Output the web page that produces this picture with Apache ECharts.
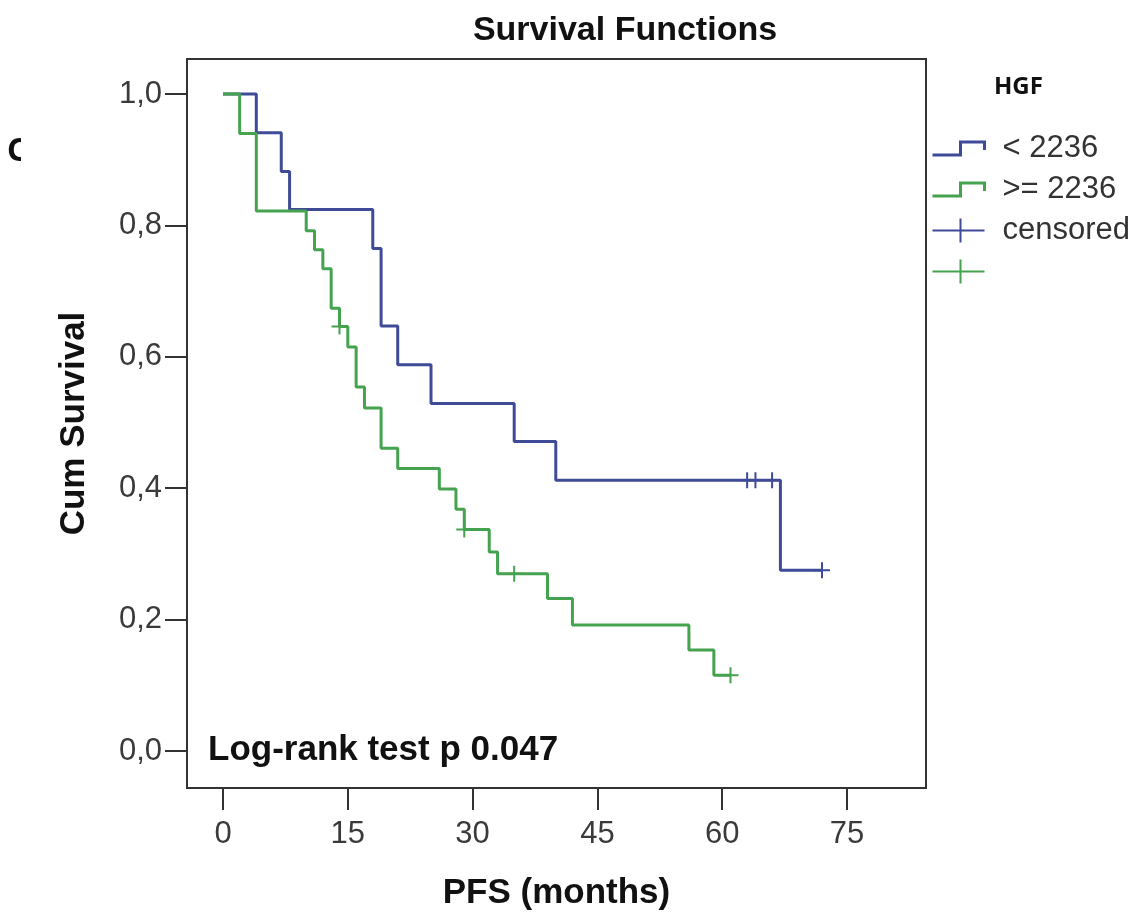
<!DOCTYPE html>
<html>
<head>
<meta charset="utf-8">
<script src="https://cdn.jsdelivr.net/npm/echarts@6/dist/echarts.min.js"></script>
<style>
html,body{margin:0;padding:0;background:#fff;}
#chart{width:1141px;height:916px;}
</style>
</head>
<body>
<div id="chart"></div>
<script>
// ---- data ----
const xTickValues = [0, 15, 30, 45, 60, 75];
const xTickLabels = ['0', '15', '30', '45', '60', '75'];
const yTickValues = [0, 0.2, 0.4, 0.6, 0.8, 1.0];
const yTickLabels = ['0,0', '0,2', '0,4', '0,6', '0,8', '1,0'];

const groupNames = ['< 2236', '>= 2236', 'censored', ' '];

const lowTimes = [0, 4, 7, 8, 18, 19, 21, 25, 35, 40, 67, 72];
const lowSurv  = [1.0, 0.941, 0.882, 0.824, 0.765, 0.647, 0.588, 0.529, 0.471, 0.412, 0.275, 0.275];
const lowCensorTimes = [63, 64, 66, 72];
const lowCensorSurv  = [0.412, 0.412, 0.412, 0.275];

const highTimes = [0, 2, 4, 10, 11, 12, 13, 14, 15, 16, 17, 19, 21, 26, 28, 29, 32, 33, 39, 42, 56, 59, 61];
const highSurv  = [1.0, 0.94, 0.822, 0.792, 0.763, 0.734, 0.674, 0.646, 0.615, 0.554, 0.522, 0.461, 0.43, 0.399, 0.368, 0.337, 0.303, 0.270, 0.232, 0.192, 0.154, 0.1155, 0.1155];
const highCensorTimes = [14, 29, 35, 61];
const highCensorSurv  = [0.646, 0.337, 0.270, 0.1155];

// ---- styling ----
const BLUE = '#3f4b97';
const GREEN = '#45a24f';
const AXIS = '#333';
const FONT = "'Liberation Sans', Arial, sans-serif";
const stepIcon = 'path://M0,13 L28,13 L28,0 L52,0 L52,8';
const plusIcon = 'path://M0,12 L52,12 M28,0 L28,24';
const plusSymbol = 'path://M0,8 L16,8 M8,0 L8,16';

const zip = (a, b) => a.map((v, i) => [v, b[i]]);

const chart = echarts.init(document.getElementById('chart'));
chart.setOption({
  animation: false,
  backgroundColor: '#fff',
  grid: {
    left: 187, right: 215, top: 59, bottom: 127,
    show: true, borderColor: AXIS, borderWidth: 2, backgroundColor: 'transparent'
  },
  xAxis: {
    type: 'value', min: -4.33, max: 84.5,
    name: 'PFS (months)', nameLocation: 'middle', nameGap: 88,
    nameTextStyle: { fontFamily: FONT, fontWeight: 'bold', fontSize: 35, color: '#111' },
    axisLine: { show: true, onZero: false, lineStyle: { color: AXIS, width: 2 } },
    axisTick: { show: true, length: 22, lineStyle: { color: AXIS, width: 2 }, customValues: xTickValues },
    axisLabel: {
      customValues: xTickValues, margin: 31, fontFamily: FONT, fontSize: 31, color: '#3a3a3a',
      formatter: v => xTickLabels[xTickValues.indexOf(v)]
    },
    splitLine: { show: false }
  },
  yAxis: {
    type: 'value', min: -0.0562, max: 1.0532,
    name: 'Cum Survival', nameLocation: 'middle', nameRotate: 90, nameGap: 95,
    nameTextStyle: { fontFamily: FONT, fontWeight: 'bold', fontSize: 35, color: '#111' },
    axisLine: { show: true, onZero: false, lineStyle: { color: AXIS, width: 2 } },
    axisTick: { show: true, length: 22, lineStyle: { color: AXIS, width: 2 }, customValues: yTickValues },
    axisLabel: {
      customValues: yTickValues, margin: 25, fontFamily: FONT, fontSize: 31, color: '#3a3a3a',
      padding: [10, 0, 0, 0],
      formatter: v => yTickLabels[yTickValues.findIndex(t => Math.abs(t - v) < 1e-6)]
    },
    splitLine: { show: false }
  },
  legend: {
    orient: 'vertical', left: 930, top: 133, padding: 0,
    itemWidth: 52, itemHeight: 24, itemGap: 10, selectedMode: false,
    textStyle: { fontFamily: FONT, fontSize: 31, color: '#333', padding: [0, 0, 0, 13] },
    data: [
      { name: groupNames[0], icon: stepIcon, itemStyle: { color: 'none', borderColor: BLUE, borderWidth: 3 } },
      { name: groupNames[1], icon: stepIcon, itemStyle: { color: 'none', borderColor: GREEN, borderWidth: 3 } },
      { name: groupNames[2], icon: plusIcon, itemStyle: { color: 'none', borderColor: BLUE, borderWidth: 2 } },
      { name: groupNames[3], icon: plusIcon, itemStyle: { color: 'none', borderColor: GREEN, borderWidth: 2 } }
    ]
  },
  graphic: [
    { type: 'text', x: 625, y: 31,
      style: { text: 'Survival Functions', textAlign: 'center', textVerticalAlign: 'middle',
        fontFamily: FONT, fontWeight: 'bold', fontSize: 34, fill: '#111' } },
    { type: 'text', x: 208, y: 750,
      style: { text: 'Log-rank test p 0.047', textAlign: 'left', textVerticalAlign: 'middle',
        fontFamily: FONT, fontWeight: 'bold', fontSize: 35, fill: '#111' } },
    { type: 'text', x: 994, y: 87,
      style: { text: 'HGF', textAlign: 'left', textVerticalAlign: 'middle',
        fontFamily: "'Noto Sans', sans-serif", fontWeight: 'bold', fontSize: 24, fill: '#111' } },
    { type: 'text', x: 7, y: 152,
      style: { text: 'C', textAlign: 'left', textVerticalAlign: 'middle',
        fontFamily: "'Noto Sans', sans-serif", fontWeight: 'bold', fontSize: 32, fill: '#111' } },
    { type: 'rect', shape: { x: 21, y: 128, width: 16, height: 50 }, style: { fill: '#fff' }, z: 100 }
  ],
  series: [
    { name: groupNames[0], type: 'line', step: 'end', symbol: 'none', z: 2,
      data: zip(lowTimes, lowSurv), lineStyle: { color: BLUE, width: 3 }, itemStyle: { color: BLUE } },
    { name: groupNames[1], type: 'line', step: 'end', symbol: 'none', z: 3,
      data: zip(highTimes, highSurv), lineStyle: { color: GREEN, width: 3 }, itemStyle: { color: GREEN } },
    { name: groupNames[2], type: 'scatter', symbol: plusSymbol, symbolSize: 16, z: 4,
      data: zip(lowCensorTimes, lowCensorSurv),
      itemStyle: { color: 'none', borderColor: BLUE, borderWidth: 2, opacity: 1 } },
    { name: groupNames[3], type: 'scatter', symbol: plusSymbol, symbolSize: 16, z: 4,
      data: zip(highCensorTimes, highCensorSurv),
      itemStyle: { color: 'none', borderColor: GREEN, borderWidth: 2, opacity: 1 } }
  ]
});
</script>
</body>
</html>
